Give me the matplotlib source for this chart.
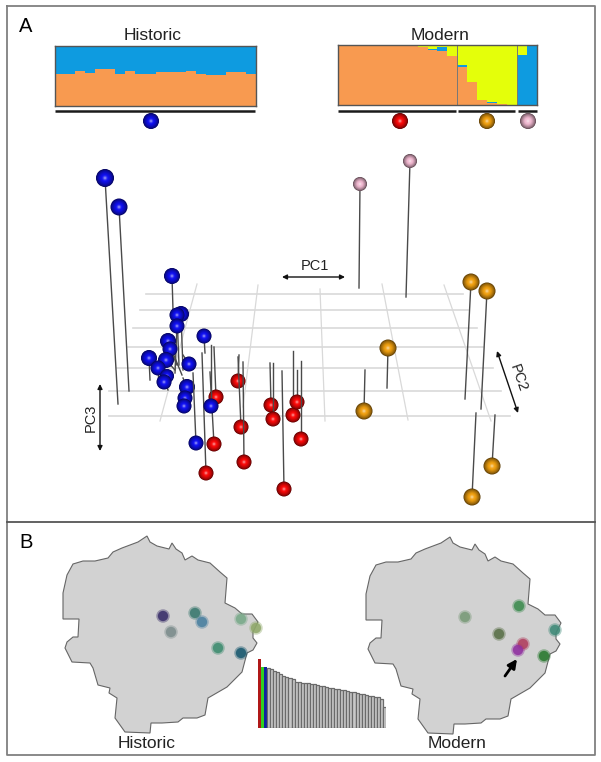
import numpy as np
import matplotlib
matplotlib.use('Agg')
import matplotlib.pyplot as plt
from matplotlib.colors import to_rgb
from matplotlib.patches import Circle, Polygon

W, H = 601, 762
plt.rcParams['font.family'] = ['Liberation Sans', 'DejaVu Sans']

# admixture, fraction of each bar
historic_orange = [.54, .54, .58, .55, .61, .61, .53, .59, .53, .54,
                   .56, .57, .57, .59, .54, .52, .52, .56, .57, .53]
modern_orange = [1, 1, 1, 1, 1, 1, 1, 1, .96, .92, .90, .81, .63, .38, .08, .03, .01, 0, 0, 0]
modern_blue = [0, 0, 0, 0, 0, 0, 0, 0, .01, .01, .07, 0, .03, 0, 0, .02, 0, 0, .83, 1]
orange_c, blue_c, yellow_c = '#f89a50', '#0e9be0', '#e4ff0a'

# PCA pins: ball x, ball y, other end of the stem y, x
blue_x = [105, 119, 172, 181, 177, 177, 204, 168, 170, 149, 166, 158, 189, 167, 164, 187, 185, 184, 211, 196]
blue_y = [178, 207, 276, 314, 315, 326, 336, 341, 349, 358, 360, 368, 364, 376, 382, 387, 398, 406, 406, 443]
blue_end_x = [118, 129, 173, 183, 179, 175, 205, 182, 177, 150, 175, 158, 183, 167, 168, 183, 185, 184, 211, 193]
blue_end_y = [404, 391, 310, 370, 365, 373, 353, 375, 365, 380, 370, 378, 355, 386, 390, 378, 398, 406, 345, 373]
blue_r = [9, 8.5, 8, 8, 7.5, 7.5, 7.5, 8, 7.5, 8, 8, 7.5, 7.5, 7, 7.5, 8, 7.5, 7.5, 7.5, 7.5]

red_x = [206, 214, 216, 238, 241, 244, 271, 273, 284, 293, 297, 301]
red_y = [473, 444, 397, 381, 427, 462, 405, 419, 489, 415, 402, 439]
red_end_x = [202, 210, 214, 239, 238, 243, 270, 273, 282, 293, 297, 301]
red_end_y = [353, 372, 347, 355, 357, 362, 363, 363, 371, 351, 370, 361]

pink_x = [360, 410]
pink_y = [184, 161]
pink_end_x = [359, 406]
pink_end_y = [288, 297]

gold_x = [471, 487, 388, 364, 492, 472]
gold_y = [282, 291, 348, 411, 466, 497]
gold_end_x = [465, 481, 387, 365, 495, 476]
gold_end_y = [399, 409, 388, 370, 415, 413]

grid_y = [294, 310, 328, 347, 368, 391, 416]
grid_left = [146, 140, 133, 128, 117, 109, 109]
grid_right = [463, 468, 477, 483, 493, 501, 510]
depth_top_x = [197, 258, 320, 382, 444]
depth_top_y = [284, 285, 289, 284, 285]
depth_bot_x = [160, 243, 325, 408, 491]
depth_bot_y = [421, 407, 421, 420, 421]

# map outline
map_x = [63, 63, 67, 73, 83, 95, 108, 113, 122, 138, 147, 150, 157, 169, 172, 176, 182, 185,
         192, 198, 210, 220, 227, 225, 235, 242, 252, 258, 253, 253, 257, 253, 247, 242, 235,
         227, 208, 205, 197, 183, 178, 162, 151, 150, 125, 115, 117, 109, 110, 98, 93, 90, 72,
         65, 67, 73, 78, 79]
map_y = [619, 593, 575, 564, 561, 561, 558, 552, 548, 542, 536, 542, 546, 549, 543, 549, 553, 560,
         556, 560, 563, 572, 578, 603, 608, 614, 614, 622, 632, 638, 643, 650, 653, 672, 679,
         687, 698, 715, 718, 718, 722, 723, 723, 733, 732, 718, 698, 693, 688, 685, 668, 663, 662,
         648, 642, 637, 637, 619]

hist_dot_x = [163, 195, 202, 171, 241, 256, 218, 241]
hist_dot_y = [616, 613, 622, 632, 619, 628, 648, 653]
hist_dot_c = ['#3a2f6a', '#3b7a70', '#4a80a0', '#7c8c8c', '#7aaa8a', '#8fa86a', '#3e8c70', '#1a5a70']
mod_dot_x = [465, 519, 499, 555, 523, 518, 544]
mod_dot_y = [617, 606, 634, 630, 644, 650, 656]
mod_dot_c = ['#7a9a78', '#3e8c50', '#5a7048', '#3f8a78', '#b04060', '#9030a0', '#2a7a30']

# scree bars
scree_top = [69, 61, 61]
scree_top_c = ['#b01818', '#30d020', '#1020a0']
scree_grey = [60, 59, 57, 56, 54, 52, 51, 50, 49, 46, 46, 45, 45, 45, 44, 44, 43, 42, 42, 41,
              40, 40, 39, 39, 38, 38, 37, 36, 36, 35, 34, 34, 33, 32, 32, 31, 31, 29, 21]


def ball(ax, x, y, r, color):
    base = np.array(to_rgb(color))
    for f in np.linspace(1, 0.04, 20):
        if f > 0.4:
            # dark rim fading smoothly into the body colour
            c = base * (0.38 + 0.62 * ((1 - f) / 0.6) ** 0.7)
        else:
            c = base + (1 - base) * 0.75 * ((0.4 - f) / 0.4) ** 1.6
        ax.add_patch(Circle((x, y), r * f, fc=c, ec='none', zorder=ax.zo))
    ax.zo += 1


def pins(ax, xs, ys, end_x, end_y, r, color):
    if np.isscalar(r):
        r = [r] * len(xs)
    for x, y, ex, ey, rad in zip(xs, ys, end_x, end_y, r):
        ax.plot([x, ex], [y, ey], color='#4a4a4a', lw=1.0, zorder=ax.zo)
        ax.zo += 1
        ball(ax, x, y, rad, color)


def stack_axes(fig, x0, y0, x1, y1):
    a = fig.add_axes([x0 / W, 1 - y1 / H, (x1 - x0) / W, (y1 - y0) / H])
    a.set_xticks([])
    a.set_yticks([])
    for s in a.spines.values():
        s.set_color('#555555')
        s.set_linewidth(1.0)
    return a


fig = plt.figure(figsize=(W / 100, H / 100), dpi=100, facecolor='white')
ax = fig.add_axes([0, 0, 1, 1])
ax.set_xlim(0, W)
ax.set_ylim(H, 0)
ax.axis('off')
ax.zo = 10

# panels
ax.plot([6.5, 595, 595, 6.5, 6.5], [6, 6, 755, 755, 6], color='#808080', lw=1.3)
ax.plot([6.5, 595], [521.5, 521.5], color='#555555', lw=1.3)
ax.text(26, 27, 'A', fontsize=14.5, ha='center', va='center')
ax.text(26, 542, 'B', fontsize=14.5, ha='center', va='center')

# structure plots
ax.text(153, 35, 'Historic', fontsize=12.5, ha='center', va='center', color='#222222')
ax.text(440, 35, 'Modern', fontsize=12.5, ha='center', va='center', color='#222222')

a1 = stack_axes(fig, 55, 46, 256, 106)
idx = np.arange(len(historic_orange))
hist = np.array(historic_orange)
a1.bar(idx, hist, width=1, color=orange_c)
a1.bar(idx, 1 - hist, bottom=hist, width=1, color=blue_c)
a1.set_xlim(-0.5, len(idx) - 0.5)
a1.set_ylim(0, 1)

a2 = stack_axes(fig, 338, 45, 537, 105)
mo = np.array(modern_orange, dtype=float)
mb = np.array(modern_blue, dtype=float)
idx = np.arange(len(mo))
a2.bar(idx, mo, width=1, color=orange_c)
a2.bar(idx, mb, bottom=mo, width=1, color=blue_c)
a2.bar(idx, 1 - mo - mb, bottom=mo + mb, width=1, color=yellow_c)
a2.axvline(11.5, color='#777777', lw=0.7)
a2.axvline(17.5, color='#777777', lw=0.7)
a2.set_xlim(-0.5, len(idx) - 0.5)
a2.set_ylim(0, 1)

for x0, x1 in [(55, 255), (338, 456), (458, 515), (518, 537)]:
    ax.plot([x0, x1], [110.5, 110.5], color='#1a1a1a', lw=1.8, solid_capstyle='butt')

ball(ax, 151, 121, 8, '#1010f0')
ball(ax, 400, 121, 8, '#f80808')
ball(ax, 487, 121, 8, '#f0a010')
ball(ax, 528, 121, 8, '#f0b8d0')

# PCA grid
for y, l, r in zip(grid_y, grid_left, grid_right):
    ax.plot([l, r], [y, y], color='#d9d9d9', lw=1.2, zorder=2)
for tx, ty, bx, by in zip(depth_top_x, depth_top_y, depth_bot_x, depth_bot_y):
    ax.plot([tx, bx], [ty, by], color='#d9d9d9', lw=0.9, zorder=2)

pins(ax, pink_x, pink_y, pink_end_x, pink_end_y, 7, '#f0b8d0')
pins(ax, gold_x, gold_y, gold_end_x, gold_end_y, 8.5, '#f0a010')
pins(ax, red_x, red_y, red_end_x, red_end_y, 7.5, '#f80808')
pins(ax, blue_x, blue_y, blue_end_x, blue_end_y, blue_r, '#1010f0')

# axis arrows
arrow = dict(arrowstyle='<|-|>', color='#111111', lw=1.0, mutation_scale=7, shrinkA=0, shrinkB=0)
ax.annotate('', xy=(282, 277), xytext=(345, 277), arrowprops=arrow)
ax.annotate('', xy=(100, 384), xytext=(100, 451), arrowprops=arrow)
ax.annotate('', xy=(497, 351), xytext=(518, 413), arrowprops=arrow)
ax.text(315, 266, 'PC1', fontsize=10.5, ha='center', va='center', color='#222222')
ax.text(91, 418, 'PC3', fontsize=10.5, rotation=90, ha='center', va='center', color='#222222')
ax.text(518, 378, 'PC2', fontsize=10.5, rotation=-71, ha='center', va='center', color='#222222')

# maps
for dx, dy, dot_x, dot_y, dot_c in [(0, 0, hist_dot_x, hist_dot_y, hist_dot_c),
                                    (303, 1, mod_dot_x, mod_dot_y, mod_dot_c)]:
    pts = np.column_stack([np.array(map_x) + dx, np.array(map_y) + dy])
    ax.add_patch(Polygon(pts, closed=True, fc='#d2d2d2', ec='#666666', lw=0.8, zorder=2))
    # soft rim then core, the dots are blurred in the map
    ax.scatter(dot_x, dot_y, s=95, c=dot_c, edgecolors='none', alpha=0.4, zorder=3)
    ax.scatter(dot_x, dot_y, s=55, c=dot_c, edgecolors='none', alpha=0.85, zorder=3)

ax.annotate('', xy=(517, 659), xytext=(505, 676),
            arrowprops=dict(arrowstyle='-|>', color='black', lw=2, mutation_scale=13, shrinkA=0, shrinkB=0))
ax.text(147, 743, 'Historic', fontsize=12.5, ha='center', va='center', color='#222222')
ax.text(457, 743, 'Modern', fontsize=12.5, ha='center', va='center', color='#222222')

# scree
bar_ax = fig.add_axes([258 / W, 1 - 728 / H, 128 / W, 70 / H])
bar_ax.axis('off')
n_top = len(scree_top)
bar_ax.bar(np.arange(n_top), scree_top, width=1, color=scree_top_c)
bar_ax.bar(np.arange(len(scree_grey)) + n_top, scree_grey, width=1, color='#c8c8c8',
           edgecolor='#6a6a6a', linewidth=0.9)
bar_ax.set_xlim(-0.5, n_top + len(scree_grey) - 0.5)
bar_ax.set_ylim(0, 70)

fig.savefig('out.png', dpi=100)
